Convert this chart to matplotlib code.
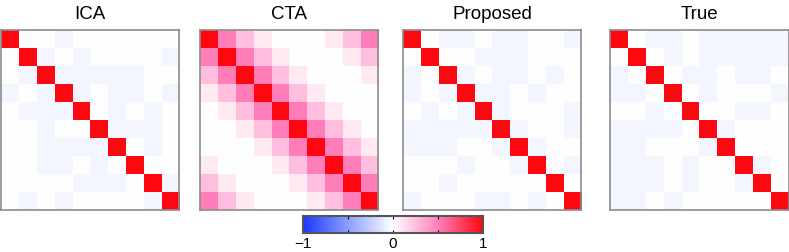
import numpy as np
import matplotlib
matplotlib.use("Agg")
import matplotlib.pyplot as plt
from matplotlib.colors import LinearSegmentedColormap

plt.rcParams['font.family'] = ['Liberation Sans', 'DejaVu Sans']

titles = ['ICA', 'CTA', 'Proposed', 'True']

b = -0.05   # faint negative correlation

ica = [
    [1, 0, 0, b, 0, 0, 0, 0, 0, 0],
    [0, 1, b, 0, b, 0, 0, 0, 0, b],
    [0, b, 1, b, b, b, b, b, 0, 0],
    [b, 0, b, 1, b, 0, b, b, 0, b],
    [0, b, b, b, 1, 0, b, 0, b, 0],
    [0, 0, b, 0, 0, 1, b, b, b, 0],
    [0, 0, b, b, b, b, 1, 0, b, 0],
    [0, 0, b, b, 0, b, 0, 1, 0, 0],
    [0, 0, 0, 0, b, b, b, 0, 1, b],
    [0, b, 0, b, 0, 0, 0, 0, b, 1],
]

cta = [
    [1.0, 0.5, 0.25, 0.08, 0, 0, 0, 0.08, 0.25, 0.5],
    [0.5, 1.0, 0.5, 0.25, 0.08, 0, 0, 0, 0.08, 0.25],
    [0.25, 0.5, 1.0, 0.5, 0.25, 0.08, 0, 0, 0, 0.08],
    [0.08, 0.25, 0.5, 1.0, 0.5, 0.25, 0.08, 0, 0, 0],
    [0, 0.08, 0.25, 0.5, 1.0, 0.5, 0.25, 0.08, 0, 0],
    [0, 0, 0.08, 0.25, 0.5, 1.0, 0.5, 0.25, 0.08, 0],
    [0, 0, 0, 0.08, 0.25, 0.5, 1.0, 0.5, 0.25, 0.08],
    [0.08, 0, 0, 0, 0.08, 0.25, 0.5, 1.0, 0.5, 0.25],
    [0.25, 0.08, 0, 0, 0, 0.08, 0.25, 0.5, 1.0, 0.5],
    [0.5, 0.25, 0.08, 0, 0, 0, 0.08, 0.25, 0.5, 1.0],
]

proposed = [
    [1, 0, b, b, 0, b, b, 0, 0, b],
    [0, 1, 0, 0, b, b, b, 0, 0, 0],
    [b, 0, 1, b, 0, b, b, 0, b, 0],
    [b, 0, b, 1, b, b, 0, b, 0, 0],
    [0, b, 0, b, 1, b, 0, 0, 0, b],
    [b, b, b, b, b, 1, b, 0, 0, b],
    [b, b, b, 0, 0, b, 1, b, 0, 0],
    [0, 0, 0, b, 0, 0, b, 1, 0, b],
    [0, 0, b, 0, 0, 0, 0, 0, 1, 0],
    [b, 0, 0, 0, b, b, 0, b, 0, 1],
]

true = [
    [1, 0, b, b, 0, b, b, b, b, b],
    [0, 1, 0, b, 0, b, b, b, b, b],
    [b, 0, 1, 0, b, b, 0, b, b, 0],
    [b, b, 0, 1, 0, b, 0, 0, 0, b],
    [0, 0, b, 0, 1, 0, 0, b, b, 0],
    [b, b, b, b, 0, 1, b, 0, 0, 0],
    [b, b, 0, 0, 0, b, 1, 0, 0, 0],
    [b, b, b, 0, b, 0, 0, 1, b, 0],
    [b, b, b, 0, b, 0, 0, b, 1, 0],
    [b, b, 0, b, 0, 0, 0, 0, 0, 1],
]

matrices = [ica, cta, proposed, true]

cmap = LinearSegmentedColormap.from_list('bwr_pink', [
    (0.0, (0.10, 0.22, 1.0)),
    (0.25, (0.55, 0.62, 1.0)),
    (0.5, (1.0, 1.0, 1.0)),
    (0.75, (1.0, 0.50, 0.74)),
    (1.0, (1.0, 0.03, 0.07)),
])

fig = plt.figure(figsize=(7.89, 2.53), dpi=100)

lefts = [0.001, 0.2535, 0.5105, 0.7735]
w = 0.226
for i in range(4):
    ax = fig.add_axes([lefts[i], 0.166, w, 0.711])
    im = ax.imshow(np.array(matrices[i]), cmap=cmap, vmin=-1, vmax=1,
                   interpolation='nearest', aspect='auto')
    ax.set_xticks([])
    ax.set_yticks([])
    for s in ax.spines.values():
        s.set_color('#8c8c8c')
        s.set_linewidth(1.2)
    ax.set_title(titles[i], fontsize=13.5, pad=9)

cax = fig.add_axes([0.384, 0.075, 0.228, 0.067])
cb = fig.colorbar(im, cax=cax, orientation='horizontal')
cb.set_ticks([-1, -0.5, 0, 0.5, 1])
cb.set_ticklabels(['\u22121', '', '0', '', '1'])
cax.tick_params(axis='x', direction='in', length=2, width=0.8, labelsize=11,
                top=True, pad=2)
cb.outline.set_edgecolor('#555555')
cb.outline.set_linewidth(1.5)

fig.savefig('out.png', dpi=100)
